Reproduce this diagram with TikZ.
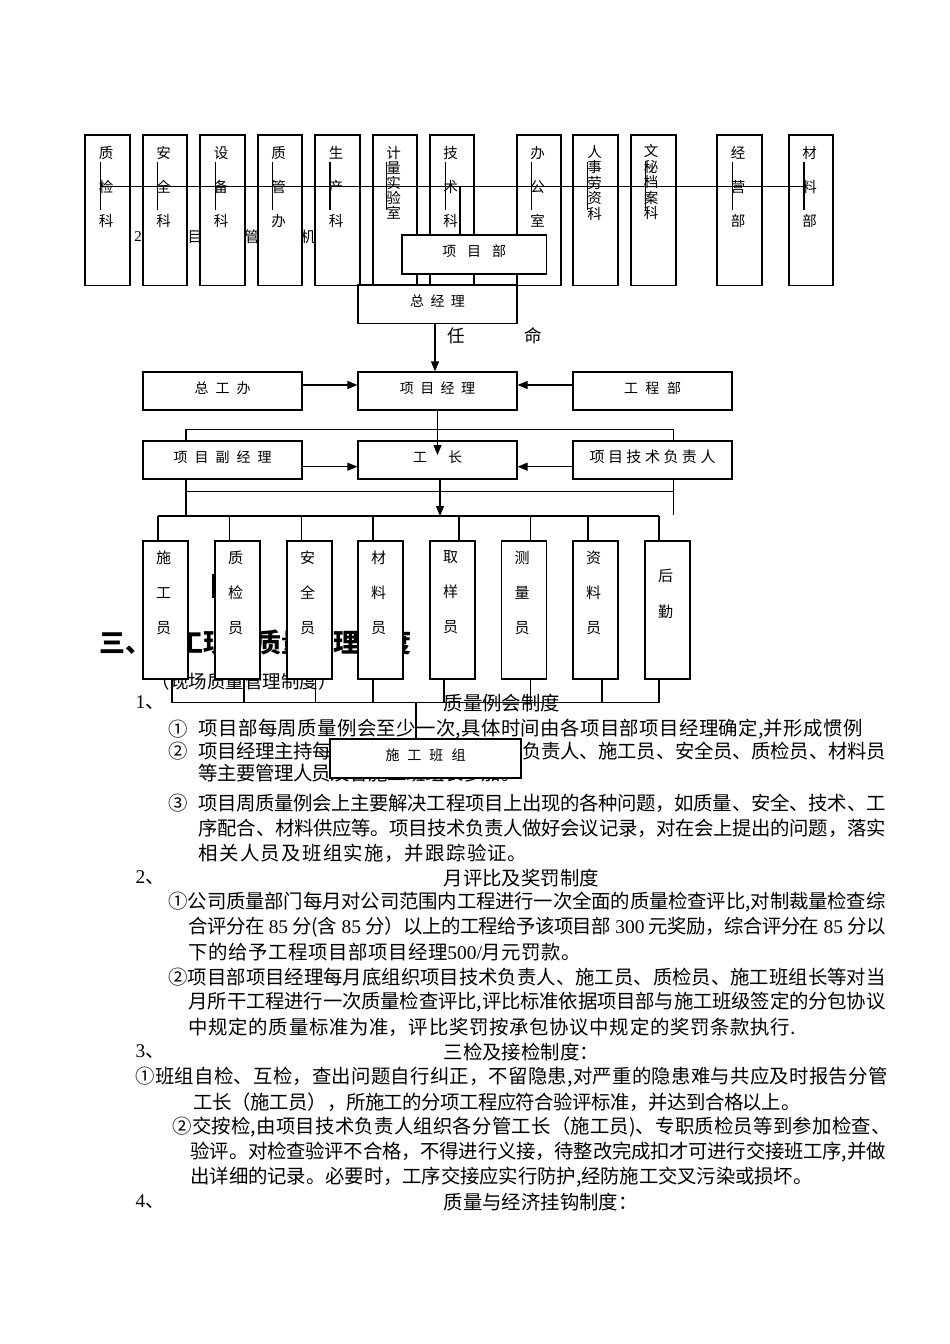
\documentclass[tikz,border=0pt]{standalone}
\usepackage{fontspec}
\setmainfont{Noto Sans CJK SC}
\newfontfamily\lat{Liberation Serif}
\usetikzlibrary{arrows.meta}
\XeTeXlinebreaklocale "zh"
\XeTeXlinebreakskip=0pt plus 4pt minus 2pt
\newcommand\fsz[2]{\fontsize{#1}{#2}\selectfont}
\newcommand\gap[1]{\hspace{#1pt}}
\newcommand\jl[2]{\parbox{#1pt}{\parindent=0pt\parfillskip=0pt\rightskip=0pt\tolerance=10000\hbadness=10000\emergencystretch=0pt #2}}
\begin{document}
\begin{tikzpicture}[x=1pt,y=-1pt,line width=1.2pt,
  bx/.style={draw,fill=white,inner sep=0pt,line width=1.2pt},
  lab/.style={font=\fsz{14}{16}},
  vlab/.style={anchor=north,inner sep=0pt,align=center},
  ln/.style={anchor=west,inner sep=0pt,font=\fsz{19.4}{21}},
  arr/.style={-{Triangle[length=10pt,width=8pt]},line width=1.2pt}]
\path[fill=white,use as bounding box] (0,0) rectangle (950,1344);

% hidden heading under top boxes
\foreach \c/\x [count=\i] in {{\lat 2}/138,、/152,项/167,目/195,部/223.5,管/252,理/280,机/308,构/337}
  \node[font=\fsz{15}{16},inner sep=0pt] (hc\i) at (\x,237) {\c};

% top row boxes
\foreach \c/\w [count=\i] in {107.5/45,165/44,222.5/45,280/44,337.5/45,395/44,452/44,539/44,595.5/45,653.5/45,739.5/45,811/44}
  \node[bx,minimum width=\w pt,minimum height=150.7pt] (k\i) at (\c,210.35) {};
\foreach \i/\c/\t in {1/106/质\\检\\科,2/163.5/安\\全\\科,3/221/设\\备\\科,4/278.5/质\\管\\办,5/336/生\\产\\科,7/450.5/技\\术\\科,8/537.5/办\\公\\室,11/738/经\\营\\部,12/809.5/材\\料\\部}
  \node[vlab,font=\fsz{14.5}{34}] (kt\i) at (\c,145.5) {\t};
\node[vlab,font=\fsz{14.5}{15}] (kt6) at (393.5,145.5) {计\\量\\实\\验\\室};
\node[vlab,font=\fsz{14.5}{15.5}] (kt9) at (594.5,144.5) {人\\事\\劳\\资\\科};
\node[vlab,font=\fsz{14.5}{15.5}] (kt10) at (651,143.8) {文\\秘\\档\\案\\科};

% top bus and ticks
\coordinate (tl) at (100.7,186.7);
\coordinate (tr) at (806,186.7);
\draw (tl) -- (tr);
\foreach \x [count=\i] in {100.7,157.7,215.7,272.7,330,386.7,445.7,531.7,587.7,645.7,732.3,804}{
  \coordinate (ta\i) at (\x,161.7);
  \coordinate (tb\i) at (\x,210);
  \draw (ta\i) -- (tb\i);
}

% 项目部 / 总经理
\node[bx,minimum width=144.5pt,minimum height=39pt,lab] (xmb) at (474.25,254.5) {\raisebox{3pt}[\height][\depth]{项\gap{11}目\gap{11}部}};
\coordinate (tv) at (460,186.7);
\draw (tv) -- (tv |- xmb.north);
\node[bx,minimum width=159pt,minimum height=38.3pt,lab] (zjl) at (437.5,304.15) {\raisebox{3pt}[\height][\depth]{总\gap{6.5}经\gap{6.5}理}};
\node[font=\fsz{17.5}{18},inner sep=0pt] (ren) at (456,336) {任};
\node[font=\fsz{17.5}{18},inner sep=0pt] (ming) at (533,336) {命};

% row 2
\node[bx,minimum width=159pt,minimum height=38pt,lab] (zgb) at (222.5,391) {\raisebox{3pt}[\height][\depth]{总\gap{7}工\gap{7}办}};
\node[bx,minimum width=159pt,minimum height=38pt,lab] (xmjl) at (437.5,391) {\raisebox{3pt}[\height][\depth]{项\gap{6.5}目\gap{6.5}经\gap{6.5}理}};
\node[bx,minimum width=159pt,minimum height=38pt,lab] (gcb) at (652.5,391) {\raisebox{3pt}[\height][\depth]{工\gap{7.5}程\gap{7.5}部}};
\draw[arr] ([xshift=-2.5pt]zjl.south) -- ([xshift=-2.5pt]xmjl.north);
\draw[arr] ([yshift=6pt]zgb.east) -- ([yshift=6pt]xmjl.west);
\draw[arr] ([yshift=6pt]gcb.west) -- ([yshift=6pt]xmjl.east);

% body text (drawn before the lower boxes)
\node[anchor=west,inner sep=0pt,font=\fsz{26}{28}\bfseries] (h3) at (99,642) {三、施工现场质量管理制度};
\node[anchor=west,inner sep=0pt,font=\fsz{18.5}{20}] (h4) at (151,681) {（现场质量管理制度）};

\node[ln] (n1) at (135,703) {{\lat 1}、};
\node[ln] (s1) at (443,703) {质量例会制度};
\node[ln] (c1) at (168,729) {①};
\node[ln] (p1) at (198,729) {\jl{664}{项目部每周质量例会至少一次,具体时间由各项目部项目经理确定,并形成惯例}};
\node[ln] (c2) at (168,751) {②};
\node[ln] (p2) at (198,751) {\jl{687}{项目经理主持每周质量例会，项目技术负责人、施工员、安全员、质检员、材料员}};
\node[ln] (p3) at (198,773) {\jl{322}{等主要管理人员及各施工班组长参加。}};
\node[ln] (c3) at (168,803) {③};
\node[ln] (p4) at (198,803) {\jl{687}{项目周质量例会上主要解决工程项目上出现的各种问题，如质量、安全、技术、工}};
\node[ln] (p5) at (198,828) {\jl{687}{序配合、材料供应等。项目技术负责人做好会议记录，对在会上提出的问题，落实}};
\node[ln] (p6) at (198,853) {\jl{328}{相关人员及班组实施，并跟踪验证。}};

\node[ln] (n2) at (135,878) {{\lat 2}、};
\node[ln] (s2) at (443,878) {月评比及奖罚制度};
\node[ln] (q1) at (168,902) {\jl{717}{①公司质量部门每月对公司范围内工程进行一次全面的质量检查评比,对制裁量检查综}};
\node[ln] (q2) at (188,927) {\jl{697}{合评分在{\lat\ 85\ }分(含{\lat\ 85\ }分）以上的工程给予该项目部{\lat\ 300\ }元奖励，综合评分在{\lat\ 85\ }分以}};
\node[ln] (q3) at (188,952) {\jl{392}{下的给予工程项目部项目经理{\lat 500/}月元罚款。}};
\node[ln] (q4) at (168,977) {\jl{717}{②项目部项目经理每月底组织项目技术负责人、施工员、质检员、施工班组长等对当}};
\node[ln] (q5) at (188,1002) {\jl{697}{月所干工程进行一次质量检查评比,评比标准依据项目部与施工班级签定的分包协议}};
\node[ln] (q6) at (188,1027) {\jl{607}{中规定的质量标准为准，评比奖罚按承包协议中规定的奖罚条款执行.}};

\node[ln] (n3) at (135,1052) {{\lat 3}、};
\node[ln] (s3) at (443,1052) {三检及接检制度：};
\node[ln] (r1) at (135,1077) {\jl{752}{①班组自检、互检，查出问题自行纠正，不留隐患,对严重的隐患难与共应及时报告分管}};
\node[ln] (r2) at (193,1102) {\jl{607}{工长（施工员），所施工的分项工程应符合验评标准，并达到合格以上。}};
\node[ln] (r3) at (172,1127) {\jl{718}{②交按检,由项目技术负责人组织各分管工长（施工员)、专职质检员等到参加检查、}};
\node[ln] (r4) at (190,1152) {\jl{695}{验评。对检查验评不合格，不得进行义接，待整改完成扣才可进行交接班工序,并做}};
\node[ln] (r5) at (190,1177) {\jl{622}{出详细的记录。必要时，工序交接应实行防护,经防施工交叉污染或损坏。}};

\node[ln] (n4) at (135,1202) {{\lat 4}、};
\node[ln] (s4) at (443,1202) {质量与经济挂钩制度：};

% middle frame
\coordinate (fA) at (186,429.3);
\coordinate (fB) at (673.6,429.3);
\coordinate (fC) at (186,516);
\coordinate (fD) at (673.6,515);
\coordinate (fE) at (186,491.7);
\coordinate (fF) at (673.6,491.7);
\draw (fC) -- (fA) -- (fB) -- (fD);
\draw (fE) -- (fF);

% row 3
\node[bx,minimum width=159pt,minimum height=38pt,lab] (fjl) at (222.5,460) {\raisebox{3pt}[\height][\depth]{项\gap{7}目\gap{7}副\gap{7}经\gap{7}理}};
\node[bx,minimum width=159pt,minimum height=38pt,lab] (gz) at (437.5,460) {\raisebox{3pt}[\height][\depth]{工\gap{21}长}};
\node[bx,minimum width=159pt,minimum height=38pt,font=\fsz{15}{16}] (jsfz) at (652.5,460) {\raisebox{3pt}[\height][\depth]{项\gap{3.5}目\gap{3.5}技\gap{3.5}术\gap{3.5}负\gap{3.5}责\gap{3.5}人}};
\draw[arr] (xmjl.south) -- ([yshift=5pt]gz.center);
\draw[arr] ([yshift=-6.7pt]fjl.east) -- ([yshift=-6.7pt]gz.west);
\draw[arr] ([yshift=-6.7pt]jsfz.west) -- ([yshift=-6.7pt]gz.east);

% bottom boxes
\foreach \c [count=\i] in {165.5,237.5,309.5,380.5,452.5,524,595.5,667.5}
  \node[bx,minimum width=45pt,minimum height=138pt] (b\i) at (\c,610) {};
\foreach \i/\c/\t in {1/163.5/施\\工\\员,2/235.5/质\\检\\员,3/307.5/安\\全\\员,4/378.5/材\\料\\员,5/450.5/取\\样\\员,6/522/测\\量\\员,7/593.5/资\\料\\员}
  \node[vlab,font=\fsz{15}{35}] (bt\i) at (\c,550) {\t};
\node[vlab,font=\fsz{15}{36.5}] (bt8) at (665.5,568.3) {后\\勤};

% buses round the bottom boxes
\coordinate (ul) at (158,516);
\coordinate (ur) at (659,516);
\draw (ul) -- (ur);
\foreach \x [count=\i] in {158,229.4,301.2,373,459,530.4,588,659}{
  \coordinate (u\i) at (\x,516);
  \draw (u\i) -- (u\i |- b\i.north);
}
\coordinate (busA) at (440,516);
\draw[arr] (gz.south -| busA) -- (busA);
\coordinate (dl) at (172,702.7);
\coordinate (dr) at (659,702.7);
\draw (dl) -- (dr);
\foreach \x [count=\i] in {172,244,315.4,373,444,530.4,602,659}{
  \coordinate (d\i) at (\x,702.7);
  \draw (b\i.south -| d\i) -- (d\i);
}
\coordinate (mk1) at (213.5,574);
\coordinate (mk2) at (213.5,598);
\draw[line width=2.2pt] (mk1) -- (mk2);

% 施工班组
\node[bx,minimum width=191pt,minimum height=39pt,lab] (bz) at (425.5,758.5) {\raisebox{3pt}[\height][\depth]{施\gap{8}工\gap{8}班\gap{8}组}};
\coordinate (dz) at (416,702.7);
\draw (dz) -- (dz |- bz.north);
\end{tikzpicture}
\end{document}
